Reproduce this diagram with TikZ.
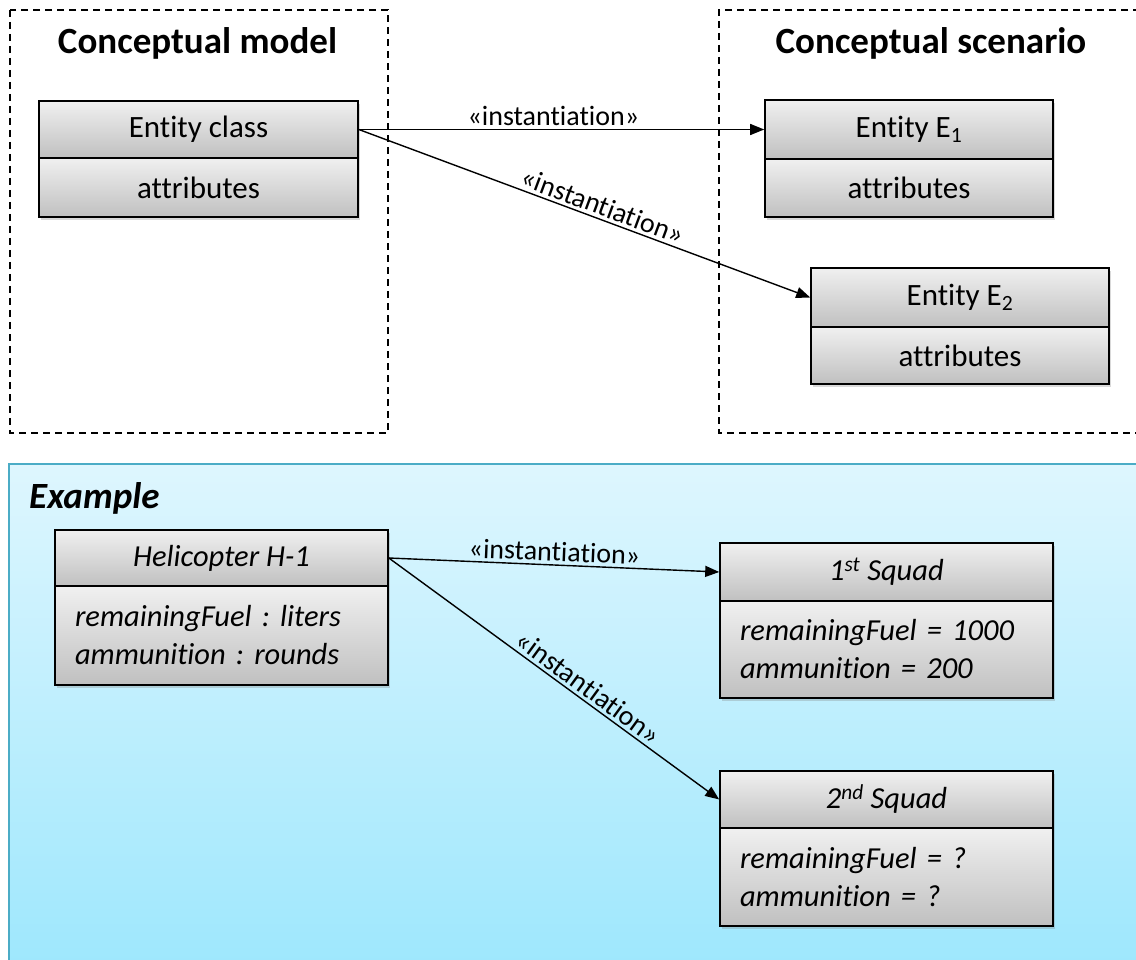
\documentclass[tikz,border=0pt]{standalone}
\usepackage{fontspec}
\setmainfont{Carlito}[Ligatures={NoCommon}]
\frenchspacing
\usetikzlibrary{shadows,arrows.meta}
\definecolor{exborder}{HTML}{4BACC6}
\definecolor{extop}{HTML}{DEF6FE}
\definecolor{exbot}{HTML}{9DE7FD}
\definecolor{boxtop}{HTML}{F0F0F0}
\definecolor{boxbot}{HTML}{C0C0C0}
\begin{document}
\begin{tikzpicture}[x=1pt,y=-1pt,
  comp/.style={draw=black, line width=1.6pt, top color=boxtop, bottom color=boxbot,
    inner sep=0pt, font=\fontsize{31}{38}\selectfont,
    drop shadow={shadow xshift=2pt,shadow yshift=-3pt,opacity=0.3}},
  icomp/.style={comp, font=\fontsize{30.5}{38}\selectfont\itshape},
  attrs/.style={icomp, align=left, inner xsep=20pt, text width=#1},
  title/.style={font=\fontsize{37}{42}\selectfont\bfseries, anchor=base, inner sep=0pt},
  frame/.style={dash pattern=on 7pt off 5pt, line width=1.3pt},
  inst/.style={-{Triangle[length=14pt,width=11pt]}, line width=1.4pt},
  lbl/.style={font=\fontsize{28}{30}\selectfont, sloped, above, inner sep=3pt}]
\useasboundingbox (0,0) rectangle (1136,960);
\clip (0,0) rectangle (1136,960);
% top frames
\draw[frame] (10,10) rectangle (388,433);
\draw[frame] (1140,10) -- (719,10) -- (719,433) -- (1140,433);
\node[title] (tm) at (197.5,54) {Conceptual model};
\node[title] (ts) at (931,54) {Conceptual scenario};
% example area
\draw[draw=exborder, line width=2pt, top color=extop, bottom color=exbot] (9,464) rectangle (1150,975);
\node[font=\fontsize{37}{42}\selectfont\bfseries\itshape, anchor=base west, inner sep=0pt] (ex) at (29,508) {Example};
% conceptual model
\node[comp, minimum width=319pt, minimum height=57pt] (ecH) at (198.5,129.5) {Entity class};
\node[comp, minimum width=319pt, minimum height=59pt] (ecA) at (198.5,187.5) {attributes};
% scenario
\node[comp, minimum width=288pt, minimum height=59pt] (e1H) at (909,129.5) {Entity E\textsubscript{1}};
\node[comp, minimum width=288pt, minimum height=58pt] (e1A) at (909,188) {attributes};
\node[comp, minimum width=298pt, minimum height=59pt] (e2H) at (960,297.5) {Entity E\textsubscript{2}};
\node[comp, minimum width=298pt, minimum height=57pt] (e2A) at (960,355.5) {attributes};
% example boxes
\node[icomp, minimum width=333pt, minimum height=56pt] (hH) at (221.5,558) {Helicopter H-1};
\node[attrs=293pt, minimum height=99pt] (hA) at (221.5,635.5) {remainingFuel : liters\\ammunition : rounds};
\node[icomp, minimum width=333pt, minimum height=58pt] (s1H) at (886.5,572) {1\textsuperscript{st} Squad};
\node[attrs=293pt, minimum height=97pt] (s1A) at (886.5,649.5) {remainingFuel = 1000\\ammunition = 200};
\node[icomp, minimum width=333pt, minimum height=57pt] (s2H) at (886.5,799.5) {2\textsuperscript{nd} Squad};
\node[attrs=293pt, minimum height=98pt] (s2A) at (886.5,877) {remainingFuel = ?\\ammunition = ?};
% connectors
\draw[inst] (ecH.east) -- node[lbl, pos=0.48] {«instantiation»} (e1H.west);
\draw[inst] (ecH.east) -- node[lbl, pos=0.53] {«instantiation»} (e2H.west);
\draw[inst] (hH.east) -- node[lbl, pos=0.5] {«instantiation»} (s1H.west);
\draw[inst] (hH.east) -- node[lbl, pos=0.58] {«instantiation»} (s2H.west);
\end{tikzpicture}
\end{document}
